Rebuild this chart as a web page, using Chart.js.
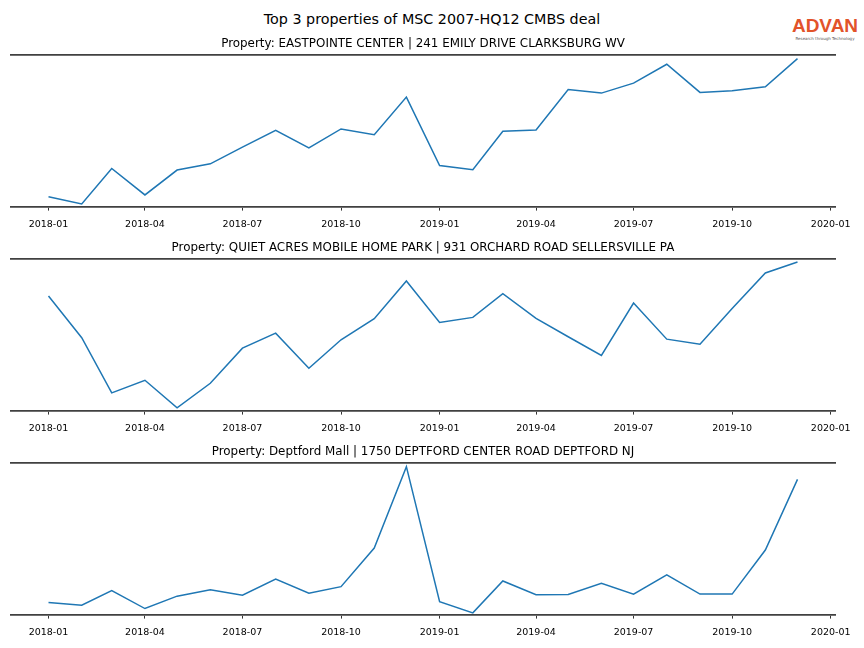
<!DOCTYPE html>
<html>
<head>
<meta charset="utf-8">
<script src="https://cdn.jsdelivr.net/npm/chart.js@4"></script>
<style>
  body { margin: 0; width: 864px; height: 648px; background: #fff; position: relative; overflow: hidden; font-family: "DejaVu Sans", sans-serif; }
  #suptitle { position: absolute; top: 11px; left: 0; width: 864px; text-align: center; font-size: 14.3px; color: #000; }
  #logo { position: absolute; top: 16px; left: 791px; width: 68px; text-align: center; color: #e2532a; }
  #logo .big { font-size: 19px; font-weight: bold; line-height: 20px; font-family: "Liberation Sans", sans-serif; }
  #logo .small { font-size: 4px; color: #555; line-height: 5px; }
  canvas { position: absolute; left: 0; }
</style>
</head>
<body>
<div id="suptitle">Top 3 properties of MSC 2007-HQ12 CMBS deal</div>
<div id="logo"><div class="big">ADVAN</div><div class="small">Research through Technology</div></div>
<canvas id="c1" width="864" height="201" style="top:37px"></canvas>
<canvas id="c2" width="864" height="201" style="top:241px"></canvas>
<canvas id="c3" width="864" height="201" style="top:445px"></canvas>
<script>
const months = ['2018-01','2018-02','2018-03','2018-04','2018-05','2018-06','2018-07','2018-08','2018-09','2018-10','2018-11','2018-12',
                '2019-01','2019-02','2019-03','2019-04','2019-05','2019-06','2019-07','2019-08','2019-09','2019-10','2019-11','2019-12'];
const tickLabels = ['2018-01','2018-04','2018-07','2018-10','2019-01','2019-04','2019-07','2019-10','2020-01'];

const titles = [
  'Property: EASTPOINTE CENTER | 241 EMILY DRIVE CLARKSBURG WV',
  'Property: QUIET ACRES MOBILE HOME PARK | 931 ORCHARD ROAD SELLERSVILLE PA',
  'Property: Deptford Mall | 1750 DEPTFORD CENTER ROAD DEPTFORD NJ'
];

// relative foot traffic
const eastpointe = [10, 2.7, 38.3, 11.7, 36.7, 43, 59.7, 76.7, 59, 78, 72.3, 110,
                    41.3, 37, 75.7, 77, 117.7, 114, 124, 143, 114.7, 116.3, 120.3, 148.7];
const quietAcres = [114.3, 72.7, 17.7, 30.3, 2.7, 27.3, 62.3, 77.3, 42.3, 70.7, 91.7, 129.3,
                    88, 93, 116.7, 92, 73.7, 55, 107.3, 71.3, 66.3, 102, 137.3, 148.3];
const deptford = [12, 9.3, 23.7, 6, 18.3, 24.7, 19.3, 35.3, 21.3, 27.7, 66, 146.7,
                  12.7, 1.7, 33.3, 19.7, 20, 31, 20.3, 39.3, 20.3, 20.3, 64, 134];
const yMax = [152, 151, 150];

const dayMs = 86400000;
const t0 = Date.UTC(2018, 0, 1);
function toDay(s) {
  const p = s.split('-');
  return Math.round((Date.UTC(+p[0], +p[1] - 1, 1) - t0) / dayMs);
}
const tickDays = tickLabels.map(toDay);
const monthDays = months.map(toDay);

const FONT = '"DejaVu Sans", sans-serif';
const SPINE = '#404040';

function makeChart(id, title, values, ymax) {
  const ctx = document.getElementById(id).getContext('2d');
  return new Chart(ctx, {
    type: 'line',
    data: {
      datasets: [{
        data: values.map((v, i) => ({x: monthDays[i], y: v})),
        borderColor: '#1f77b4',
        borderWidth: 1.5,
        pointRadius: 0,
        tension: 0,
        fill: false
      }]
    },
    options: {
      responsive: false,
      animation: false,
      devicePixelRatio: 1,
      layout: { padding: { left: 11, right: 29, top: 0, bottom: 0 } },
      scales: {
        x: {
          type: 'linear',
          min: -35,
          max: 734,
          afterBuildTicks: (scale) => { scale.ticks = tickDays.map(v => ({value: v})); },
          ticks: {
            callback: (v) => tickLabels[tickDays.indexOf(v)],
            color: '#000',
            font: { family: FONT, size: 9.5 },
            padding: 8,
            maxRotation: 0,
            autoSkip: false
          },
          grid: { display: true, drawOnChartArea: false, drawTicks: true, tickLength: 4, color: '#333', lineWidth: 1 },
          border: { display: true, color: SPINE, width: 1.8 }
        },
        x2: {
          type: 'linear',
          position: 'top',
          min: -35,
          max: 734,
          ticks: { display: false },
          grid: { display: false, drawTicks: false },
          border: { display: true, color: SPINE, width: 1.8 }
        },
        y: {
          min: 0,
          max: ymax,
          display: false
        }
      },
      plugins: {
        legend: { display: false },
        tooltip: { enabled: false },
        title: {
          display: true,
          text: title,
          color: '#000',
          font: { family: FONT, size: 11.9, weight: 'normal' },
          padding: { top: 0, bottom: 4 }
        }
      }
    }
  });
}

makeChart('c1', titles[0], eastpointe, yMax[0]);
makeChart('c2', titles[1], quietAcres, yMax[1]);
makeChart('c3', titles[2], deptford, yMax[2]);
</script>
</body>
</html>
